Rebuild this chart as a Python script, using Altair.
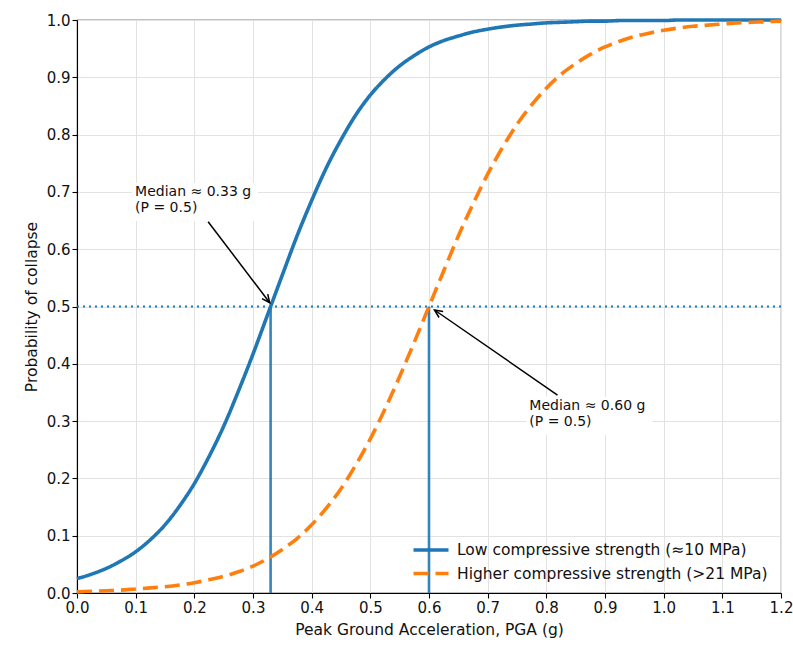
import altair as alt
import pandas as pd

# ---- data ----
pga = [0.000, 0.025, 0.050, 0.075, 0.100, 0.125, 0.150, 0.175, 0.200, 0.225,
       0.250, 0.275, 0.300, 0.325, 0.350, 0.375, 0.400, 0.425, 0.450, 0.475,
       0.500, 0.525, 0.550, 0.575, 0.600, 0.625, 0.650, 0.675, 0.700, 0.725,
       0.750, 0.775, 0.800, 0.825, 0.850, 0.875, 0.900, 0.925, 0.950, 0.975,
       1.000, 1.025, 1.050, 1.075, 1.100, 1.125, 1.150, 1.175, 1.200]
p_low = [0.025, 0.033, 0.043, 0.056, 0.072, 0.093, 0.119, 0.152, 0.191, 0.238,
         0.291, 0.352, 0.417, 0.486, 0.555, 0.623, 0.685, 0.742, 0.791, 0.834,
         0.869, 0.897, 0.920, 0.938, 0.953, 0.964, 0.972, 0.979, 0.984, 0.988,
         0.991, 0.993, 0.995, 0.996, 0.997, 0.998, 0.998, 0.999, 0.999, 0.999,
         0.999, 1.000, 1.000, 1.000, 1.000, 1.000, 1.000, 1.000, 1.000]
p_high = [0.002, 0.003, 0.004, 0.005, 0.007, 0.009, 0.011, 0.014, 0.018, 0.023,
          0.029, 0.037, 0.047, 0.060, 0.076, 0.095, 0.119, 0.148, 0.182, 0.223,
          0.269, 0.321, 0.378, 0.438, 0.500, 0.562, 0.623, 0.679, 0.731, 0.777,
          0.818, 0.852, 0.881, 0.905, 0.924, 0.940, 0.953, 0.963, 0.971, 0.977,
          0.982, 0.986, 0.989, 0.991, 0.993, 0.995, 0.996, 0.997, 0.998]
series_names = ["Low compressive strength (\u224810 MPa)",
                "Higher compressive strength (>21 MPa)"]
series_colors = ["#1f77b4", "#ff7f0e"]
medians = [0.33, 0.60]
p_median = 0.5

ann_text = ["Median \u2248 0.33 g\n(P = 0.5)", "Median \u2248 0.60 g\n(P = 0.5)"]
ann_text_x = [0.099, 0.771]
ann_text_y = [0.712, 0.339]
arrow_x0 = [0.2235, 0.819]
arrow_y0 = [0.648, 0.3455]
arrow_x1 = [0.3285, 0.6094]
arrow_y1 = [0.5066, 0.4939]
arrow_angle = [142.7, 304.6]

x_ticks = [0.0, 0.1, 0.2, 0.3, 0.4, 0.5, 0.6, 0.7, 0.8, 0.9, 1.0, 1.1, 1.2]
y_ticks = [0.0, 0.1, 0.2, 0.3, 0.4, 0.5, 0.6, 0.7, 0.8, 0.9, 1.0]

# ---- tables ----
curves = pd.DataFrame({
    "pga": pga * 2,
    "p": p_low + p_high,
    "series": [series_names[0]] * len(pga) + [series_names[1]] * len(pga),
})
med_df = pd.DataFrame({"x": medians, "y0": [0.0] * 2, "y1": [p_median] * 2})
hline_df = pd.DataFrame({"x0": [x_ticks[0]], "x1": [x_ticks[-1]], "y": [p_median]})
ann_df = pd.DataFrame({
    "text": ann_text, "tx": ann_text_x, "ty": ann_text_y,
    "ax0": arrow_x0, "ay0": arrow_y0, "ax1": arrow_x1, "ay1": arrow_y1,
    "angle": arrow_angle,
})

xscale = alt.Scale(domain=[0, 1.2], nice=False, zero=False)
yscale = alt.Scale(domain=[0, 1.0], nice=False)

xaxis = alt.Axis(values=x_ticks, format=".1f", title="Peak Ground Acceleration, PGA (g)",
                 labelFlush=False, labelOverlap=False, titlePadding=7)
yaxis = alt.Axis(values=y_ticks, format=".1f", title="Probability of collapse",
                 labelFlush=False, labelOverlap=False, titlePadding=7)

vlines = alt.Chart(med_df).mark_rule(color="#1f77b4", strokeWidth=2.6, opacity=0.9).encode(
    x=alt.X("x:Q", scale=xscale, axis=xaxis),
    y=alt.Y("y0:Q", scale=yscale, axis=yaxis),
    y2="y1:Q",
)

hline = alt.Chart(hline_df).mark_rule(color="#1f77b4", strokeWidth=2, strokeDash=[2, 4]).encode(
    x="x0:Q", x2="x1:Q", y="y:Q",
)

lines = alt.Chart(curves).mark_line(strokeWidth=3.6, interpolate="monotone", strokeCap="butt").encode(
    x="pga:Q",
    y="p:Q",
    color=alt.Color("series:N",
                    scale=alt.Scale(domain=series_names, range=series_colors),
                    legend=alt.Legend(title=None)),
    strokeDash=alt.StrokeDash("series:N",
                              scale=alt.Scale(domain=series_names, range=[[1, 0], [15, 7]]),
                              legend=alt.Legend(title=None)),
)

boxes = alt.Chart(ann_df).mark_rect(color="white", xOffset=-3, x2Offset=123,
                                    yOffset=-2, y2Offset=36).encode(
    x="tx:Q", x2="tx:Q", y="ty:Q", y2="ty:Q",
)

texts = alt.Chart(ann_df).mark_text(align="left", baseline="top", fontSize=14,
                                    lineHeight=16, lineBreak="\n", color="#111").encode(
    x="tx:Q", y="ty:Q", text="text:N",
)

arrows = alt.Chart(ann_df).mark_rule(color="black", strokeWidth=1.5).encode(
    x="ax0:Q", y="ay0:Q", x2="ax1:Q", y2="ay1:Q",
)

heads = alt.Chart(ann_df).mark_point(shape="M -0.45 1 L 0 0 L 0.45 1", filled=False,
                                     color="black", strokeWidth=1.5, size=256, opacity=1).encode(
    x="ax1:Q", y="ay1:Q", angle=alt.Angle("angle:Q", scale=None),
)

chart = alt.layer(vlines, hline, lines, boxes, texts, arrows, heads).properties(
    width=704, height=573,
    autosize=alt.AutoSizeParams(type="none"),
    padding={"left": 77, "top": 20, "right": 12, "bottom": 52},
).configure(
    font="DejaVu Sans",
).configure_view(
    stroke="black", strokeWidth=1.1,
).configure_axis(
    grid=True, gridColor="#e2e2e2", gridWidth=1,
    domainColor="black", domainWidth=1.1,
    tickColor="black", tickSize=5, tickWidth=1.1,
    labelFontSize=15, labelColor="#111", labelPadding=2,
    titleFontSize=15.5, titleColor="#111", titleFontWeight="normal",
).configure_legend(
    orient="none", legendX=326, legendY=510,
    padding=8,
    symbolType="M -0.95 0 L 2.55 0", symbolSize=400, symbolStrokeWidth=3.6,
    symbolFillColor="transparent",
    labelFontSize=15.5, labelColor="#111", labelOffset=22, rowPadding=2.5,
    labelLimit=400,
)

chart.save("out.html", embed_options={"renderer": "svg", "actions": False})
